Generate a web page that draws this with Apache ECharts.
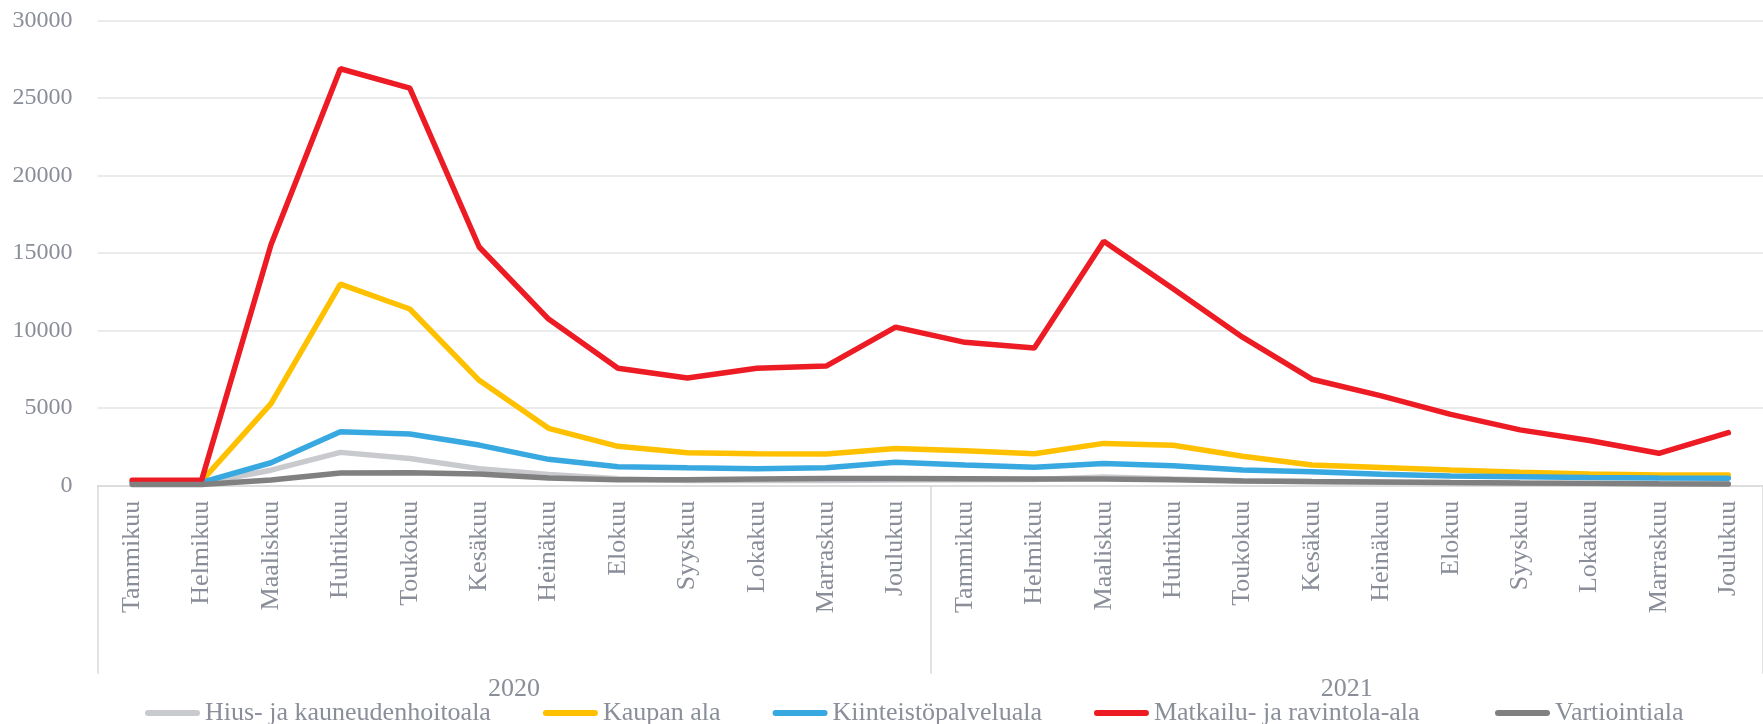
<!DOCTYPE html>
<html>
<head>
<meta charset="utf-8">
<title>Kuukausittaiset luvut 2020-2021</title>
<script src="https://cdn.jsdelivr.net/npm/echarts@6/dist/echarts.min.js"></script>
<style>
    html, body { margin: 0; padding: 0; background: #fff; }
    #main-chart { width: 1763px; height: 724px; }
</style>
</head>
<body>
<div id="main-chart"></div>
<script>
// kuukaudet ja vuodet
var monthNames = ['Tammikuu', 'Helmikuu', 'Maaliskuu', 'Huhtikuu', 'Toukokuu', 'Kesäkuu',
    'Heinäkuu', 'Elokuu', 'Syyskuu', 'Lokakuu', 'Marraskuu', 'Joulukuu'];
var years = ['2020', '2021'];
var categories = monthNames.concat(monthNames);

// sarjat (luettu kuvasta)
var hius = [150, 150, 1000, 2150, 1750, 1100, 720, 450, 330, 330, 340, 360,
    380, 400, 560, 430, 320, 260, 220, 190, 160, 140, 120, 110];
var kaupan = [300, 300, 5300, 13000, 11400, 6800, 3700, 2540, 2130, 2060, 2040, 2400,
    2250, 2060, 2730, 2610, 1900, 1340, 1180, 1010, 860, 760, 690, 690];
var kiinteisto = [220, 220, 1480, 3480, 3330, 2620, 1700, 1225, 1160, 1100, 1160, 1510,
    1340, 1190, 1440, 1290, 1010, 900, 740, 630, 580, 530, 500, 480];
var matkailu = [350, 350, 15550, 26900, 25650, 15400, 10750, 7580, 6950, 7580, 7720, 10230,
    9250, 8880, 15770, 12700, 9580, 6870, 5800, 4600, 3600, 2920, 2090, 3420];
var vartio = [80, 80, 370, 820, 830, 750, 500, 380, 380, 440, 470, 470,
    450, 430, 430, 380, 310, 270, 240, 200, 170, 150, 120, 110];

var yTicks = [0, 5000, 10000, 15000, 20000, 25000, 30000];

var textColor = '#8a8e99';
var fontName = 'Liberation Serif';

function drawChart() {
    var chartDom = document.getElementById('main-chart');
    var myChart = echarts.init(chartDom, null, { renderer: 'canvas' });

    function lineSeries(name, data, color) {
        return {
            name: name,
            type: 'line',
            data: data,
            showSymbol: false,
            symbol: 'none',
            animation: false,
            lineStyle: { width: 5.5, color: color, cap: 'round' },
            itemStyle: { color: color }
        };
    }

    function legendPart(left, names) {
        return {
            left: left,
            top: 695,
            itemWidth: 55,
            itemHeight: 6,
            itemGap: 52,
            icon: 'path://M3,0 L52,0 A3,3 0 0 1 52,6 L3,6 A3,3 0 0 1 3,0 Z',
            data: names,
            textStyle: { color: textColor, fontSize: 26, fontFamily: fontName }
        };
    }

    var option = {
        animation: false,
        backgroundColor: '#ffffff',
        grid: {
            left: 97.5,
            top: 20.7,
            width: 1678,
            bottom: 238.3,
            containLabel: false
        },
        legend: [
            legendPart(140, ['Hius- ja kauneudenhoitoala', 'Kaupan ala', 'Kiinteistöpalveluala', 'Matkailu- ja ravintola-ala']),
            legendPart(1490, ['Vartiointiala'])
        ],
        xAxis: [
            {
                type: 'category',
                data: categories,
                boundaryGap: true,
                axisLine: { show: true, lineStyle: { color: '#d9d9d9', width: 1.5 } },
                axisTick: { show: false },
                axisLabel: {
                    rotate: 90,
                    interval: 0,
                    margin: 15,
                    color: textColor,
                    fontSize: 26,
                    fontFamily: fontName
                }
            },
            {
                // vuosiryhmät
                type: 'category',
                data: years,
                position: 'bottom',
                boundaryGap: true,
                axisLine: { show: false },
                axisTick: { show: true, length: 188, lineStyle: { color: '#d9d9d9', width: 1.5 } },
                axisLabel: {
                    margin: 190,
                    color: textColor,
                    fontSize: 26,
                    fontFamily: fontName
                }
            }
        ],
        yAxis: {
            type: 'value',
            min: yTicks[0],
            max: yTicks[yTicks.length - 1],
            interval: yTicks[1] - yTicks[0],
            axisLine: { show: false },
            axisTick: { show: false },
            splitLine: { lineStyle: { color: '#e4e4e4', width: 1.5 } },
            axisLabel: {
                margin: 25,
                color: textColor,
                fontSize: 24,
                fontFamily: fontName,
                formatter: function (value) {
                    return String(value);
                }
            }
        },
        series: [
            lineSeries('Hius- ja kauneudenhoitoala', hius, '#c9cace'),
            lineSeries('Kaupan ala', kaupan, '#ffc000'),
            lineSeries('Kiinteistöpalveluala', kiinteisto, '#38a8e0'),
            lineSeries('Matkailu- ja ravintola-ala', matkailu, '#ed1c24'),
            lineSeries('Vartiointiala', vartio, '#808080')
        ]
    };

    option && myChart.setOption(option);
}

drawChart();
</script>
</body>
</html>
